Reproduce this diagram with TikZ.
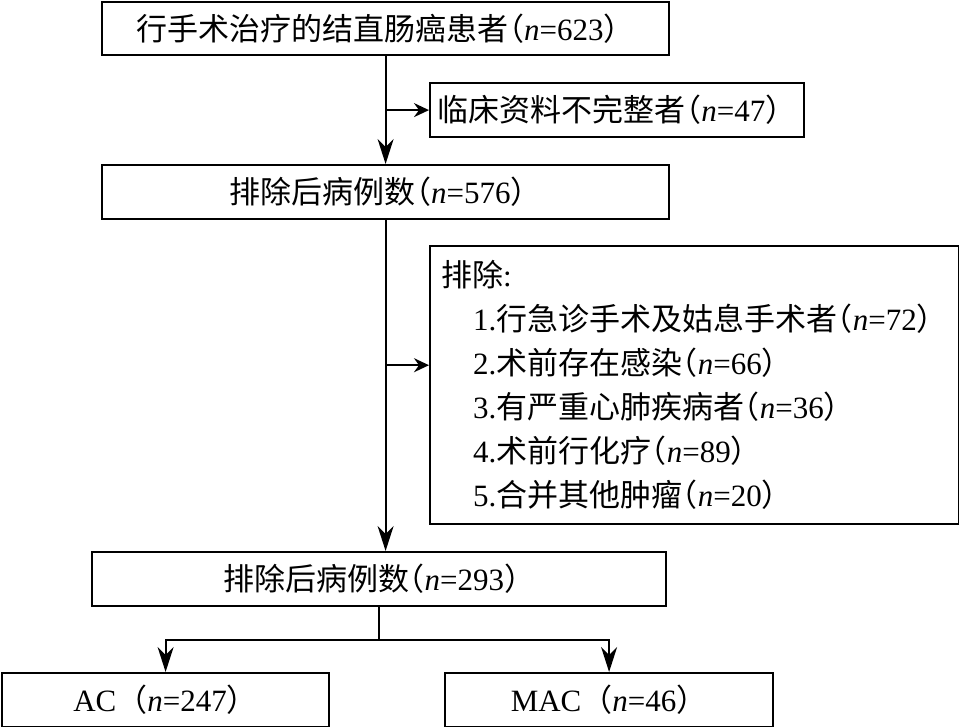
\documentclass[tikz,border=0pt]{standalone}
\usepackage{fontspec}
\setmainfont{Liberation Serif}
\newfontfamily\cjk{Noto Sans CJK SC}
\usetikzlibrary{arrows.meta,positioning}
\tikzset{
  % 全局字体(对所有 node 生效)
  every node/.append style={font=\fontsize{31}{44}\selectfont},
  % 流程框
  box/.style={draw, line width=2.2pt, inner sep=0pt, anchor=north west},
  % 箭头样式
  arr/.style={-{Stealth[length=25pt,width=16pt,inset=8pt]}, line width=2pt},
  arrsm/.style={-{Stealth[length=15pt,width=14pt,inset=5pt]}, line width=2pt},
  link/.style={line width=2pt},
}
\newcommand{\ncase}[2][-0.5em]{{\cjk\kern#1 （}\textit{n}=#2{\cjk ）}}

\begin{document}
\begin{tikzpicture}[x=1pt,y=-1pt]
        \useasboundingbox (0,0) rectangle (959,727);

        % 纳入与第一次排除
        \node[box, minimum width=567pt, minimum height=53pt] (total) at (101,1)
            {{\cjk 行手术治疗的结直肠癌患者}\ncase{623}};
        \node[box, minimum width=374pt, minimum height=54pt] (incomplete) at (429,82)
            {{\cjk 临床资料不完整者}\ncase{47}};
        \node[box, minimum width=567pt, minimum height=54pt] (first) at (101,164)
            {{\cjk 排除后病例数}\ncase{576}};

        % 排除标准
        \node[box, minimum width=529pt, minimum height=278pt, text width=507pt,
              align=left, inner xsep=11pt] (exclude) at (429,245)
            {{\cjk 排除}:\\
             \hspace*{32pt}1.{\cjk 行急诊手术及姑息手术者}\ncase{72}\\
             \hspace*{32pt}2.{\cjk 术前存在感染}\ncase{66}\\
             \hspace*{32pt}3.{\cjk 有严重心肺疾病者}\ncase{36}\\
             \hspace*{32pt}4.{\cjk 术前行化疗}\ncase{89}\\
             \hspace*{32pt}5.{\cjk 合并其他肿瘤}\ncase{20}};

        % 最终病例与分组
        \node[box, minimum width=574pt, minimum height=54pt] (second) at (91,551)
            {{\cjk 排除后病例数}\ncase{293}};
        \node[box, minimum width=327pt, minimum height=54pt] (ac) at (1,672)
            {AC\ncase[0pt]{247}};
        \node[box, minimum width=328pt, minimum height=54pt] (mac) at (444,672)
            {MAC\ncase[0pt]{46}};

        % 连线
        \draw[arr] (total.south) -- (first.north);
        \coordinate (j1) at (total.south |- incomplete.west);
        \draw[arrsm] (j1) -- (incomplete.west);

        \draw[arr] (first.south) -- (first.south |- second.north);
        \path (first.south) ++(0,145) coordinate (j2);
        \draw[arrsm] (j2) -- (j2 -| exclude.west);

        \draw[link] (second.south) -- ++(0,33) coordinate (fork);
        \draw[arr] (fork) -| (ac.north);
        \draw[arr] (fork) -| (mac.north);
    \end{tikzpicture}
\end{document}
